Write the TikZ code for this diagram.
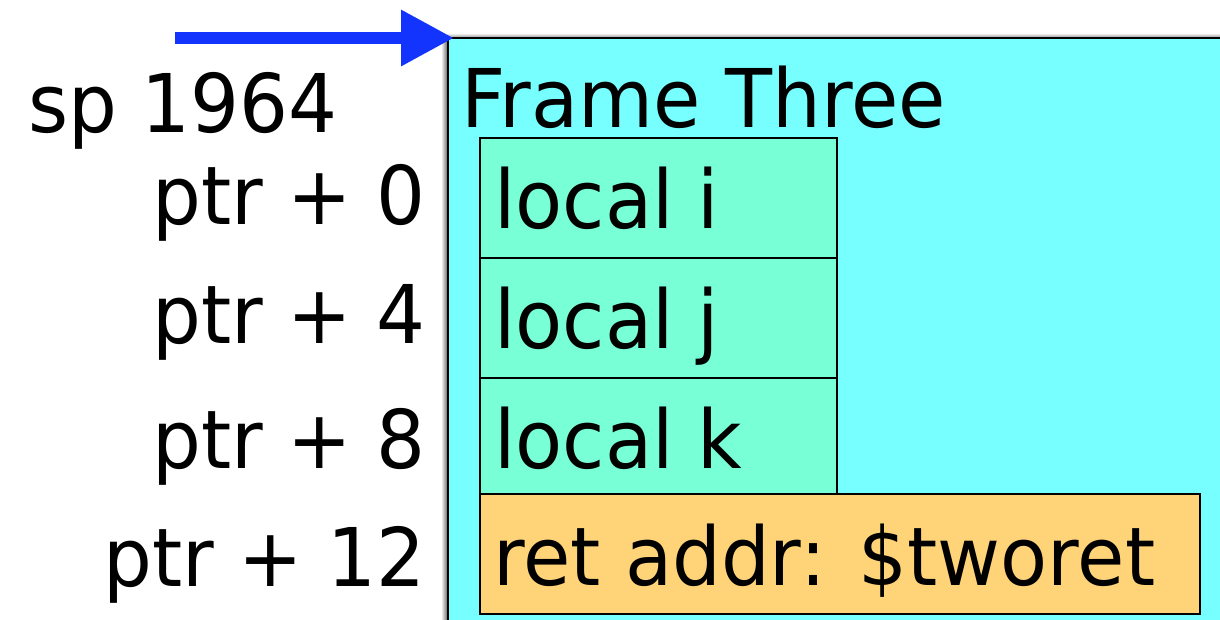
\documentclass[tikz,border=0pt]{standalone}
\usepackage{fontspec}
\setmainfont{DejaVu Sans}[FakeStretch=0.95]
\usetikzlibrary{arrows.meta}

\definecolor{framecyan}{RGB}{119,255,255}
\definecolor{localgreen}{RGB}{120,255,214}
\definecolor{retorange}{RGB}{255,212,120}
\definecolor{spblue}{RGB}{18,52,252}

\tikzset{
  big/.style={font=\fontsize{81pt}{97pt}\selectfont, inner sep=0pt, text=black},
  slotbox/.style={draw=black, line width=2pt, anchor=north west, inner sep=0pt},
  localslot/.style={slotbox, fill=localgreen, minimum width=357pt, minimum height=120pt},
  offset/.style={big, anchor=base east},
  slotlabel/.style={big, anchor=base west},
}

\begin{document}
\begin{tikzpicture}[x=1pt, y=-1pt]
  \useasboundingbox (0,0) rectangle (1220,619);
  \clip (0,0) rectangle (1220,619);

  % soft shadow along the frame's left and top edges
  \shade[left color=white, right color=black!55] (441,40) rectangle (447,640);
  \shade[top color=white, bottom color=black!35] (447,33) rectangle (1240,37);

  % the stack frame, running past the right and bottom edges
  \node[slotbox, fill=framecyan, minimum width=800pt, minimum height=620pt] (frame) at (447,37) {};
  \node[big, anchor=base west] (title) at (461,127) {Frame Three};

  % local variable slots
  \node[localslot, minimum height=120pt] (si) at (479,137) {};
  \node[localslot, minimum height=120pt] (sj) at (479,257) {};
  \node[localslot, minimum height=116pt] (sk) at (479,377) {};
  \node[slotbox, fill=retorange, minimum width=720pt, minimum height=120pt] (sr) at (479,493) {};

  \node[slotlabel] (li) at (494,228) {local i};
  \node[slotlabel] (lj) at (494,348) {local j};
  \node[slotlabel] (lk) at (494,468) {local k};
  \node[slotlabel] (lr) at (493,585) {ret addr: \$tworet};

  % offsets from the frame pointer
  \node[big, anchor=base west] (sp) at (28,132) {sp 1964};
  \node[offset] (o0) at (426,224) {ptr + 0};
  \node[offset] (o4) at (426,343) {ptr + 4};
  \node[offset] (o8) at (426,468) {ptr + 8};
  \node[offset] (o12) at (426,586) {ptr + 12};

  % stack pointer arrow to the top of the frame
  \coordinate (tail) at (175,38);
  \coordinate (tip) at (454,38);
  \draw[spblue, line width=12.5pt, -{Triangle[length=53pt, width=53pt]}] (tail) -- (tip);
\end{tikzpicture}
\end{document}
